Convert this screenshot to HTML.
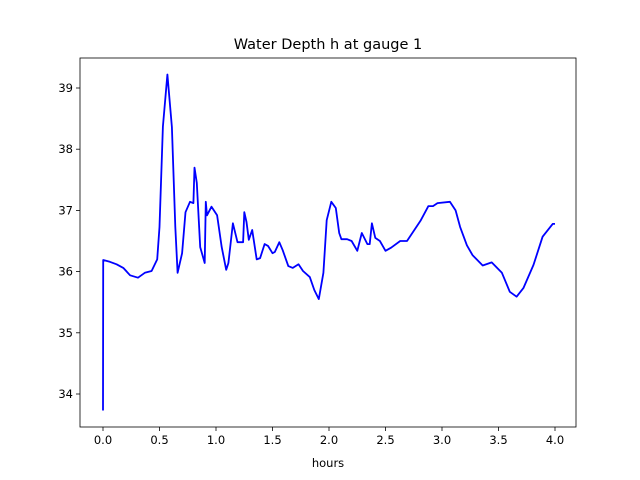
<!DOCTYPE html>
<html><head><meta charset="utf-8"><style>
html,body{margin:0;padding:0;background:#fff;}
svg{display:block;font-family:"DejaVu Sans","Liberation Sans",sans-serif;}
</style></head><body>
<svg id="chart" width="640" height="480"></svg>
<script>
const hours=[0,0.002,0.06,0.12,0.18,0.24,0.31,0.37,0.43,0.48,0.5,0.53,0.57,0.61,0.64,0.66,0.70,0.73,0.77,0.80,0.81,0.83,0.86,0.90,0.91,0.92,0.96,1.01,1.05,1.09,1.11,1.15,1.19,1.24,1.25,1.27,1.29,1.32,1.36,1.39,1.43,1.46,1.50,1.52,1.56,1.59,1.64,1.68,1.73,1.77,1.83,1.87,1.91,1.95,1.98,2.02,2.06,2.09,2.11,2.16,2.20,2.25,2.29,2.34,2.36,2.38,2.41,2.45,2.50,2.55,2.63,2.69,2.81,2.88,2.92,2.96,3.07,3.12,3.16,3.22,3.27,3.36,3.44,3.53,3.60,3.66,3.72,3.81,3.89,3.98,4.0];
const depth=[33.73,36.19,36.16,36.12,36.06,35.94,35.9,35.98,36.01,36.2,36.73,38.37,39.22,38.36,36.73,35.98,36.3,36.97,37.14,37.12,37.7,37.45,36.4,36.14,37.14,36.92,37.06,36.92,36.4,36.03,36.14,36.79,36.48,36.48,36.97,36.81,36.52,36.68,36.2,36.22,36.45,36.42,36.3,36.32,36.48,36.35,36.09,36.06,36.12,36.01,35.91,35.7,35.55,35.98,36.84,37.14,37.04,36.63,36.53,36.53,36.5,36.34,36.63,36.45,36.45,36.79,36.55,36.5,36.34,36.39,36.5,36.5,36.83,37.07,37.07,37.12,37.14,37.0,36.73,36.43,36.27,36.1,36.15,35.98,35.67,35.59,35.73,36.11,36.57,36.78,36.78];
const xTicks=[0,0.5,1,1.5,2,2.5,3,3.5,4];
const yTicks=[34,35,36,37,38,39];
const NS='http://www.w3.org/2000/svg';
const svg=document.getElementById('chart');
const L=80,R=576,T=58,B=427;
const xs=h=>103+113*h;
const ys=v=>88+(39-v)*61.2;
function mk(t,a,p){const e=document.createElementNS(NS,t);for(const k in a)e.setAttribute(k,a[k]);(p||svg).appendChild(e);return e;}
const title=mk('text',{x:328,y:49,'text-anchor':'middle','font-size':14.5,fill:'#000'});
title.textContent='Water Depth h at gauge 1';


xTicks.forEach(t=>{
  const x=xs(t);
  const tk=mk('line',{x1:x,x2:x,y1:B,y2:B+4,stroke:'#000','stroke-width':0.8});
  
  
  const lb=mk('text',{x:x,y:B+17,'text-anchor':'middle','font-size':11.5,fill:'#000'});
  lb.textContent=t.toFixed(1);
  
  
});
yTicks.forEach(t=>{
  const y=ys(t);
  const tk=mk('line',{x1:L-4,x2:L,y1:y,y2:y,stroke:'#000','stroke-width':0.8});
  
  
  const lb=mk('text',{x:L-7,y:y+4,'text-anchor':'end','font-size':11.5,fill:'#000'});
  lb.textContent=String(t);
  
  
});
const xl=mk('text',{x:328,y:467,'text-anchor':'middle','font-size':11.5,fill:'#000'});
xl.textContent='hours';


const pts=hours.map((h,i)=>xs(h).toFixed(1)+','+ys(depth[i]).toFixed(1)).join(' ');
const line=mk('polyline',{points:pts,fill:'none',stroke:'#0000ff','stroke-width':1.8,'stroke-linejoin':'round'});


const frame=mk('rect',{x:L,y:T,width:R-L,height:B-T,fill:'none',stroke:'#000','stroke-width':0.8});


</script>
</body></html>
